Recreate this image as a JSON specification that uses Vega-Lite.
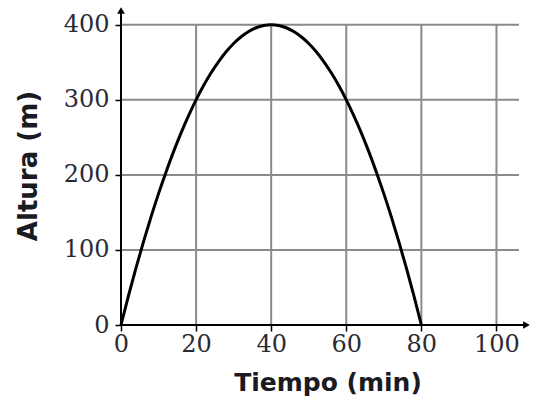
{
  "$schema": "https://vega.github.io/schema/vega-lite/v6.json",
  "autosize": {"type": "none"},
  "padding": {"left": 121, "top": 6, "right": 0, "bottom": 77},
  "width": 413,
  "height": 319,
  "background": "white",
  "config": {"view": {"stroke": null}},
  "datasets": {
    "curve": [
      {"t": 0, "h": 0}, {"t": 2, "h": 39}, {"t": 4, "h": 76}, {"t": 6, "h": 111}, {"t": 8, "h": 144},
      {"t": 10, "h": 175}, {"t": 12, "h": 204}, {"t": 14, "h": 231}, {"t": 16, "h": 256}, {"t": 18, "h": 279},
      {"t": 20, "h": 300}, {"t": 22, "h": 319}, {"t": 24, "h": 336}, {"t": 26, "h": 351}, {"t": 28, "h": 364},
      {"t": 30, "h": 375}, {"t": 32, "h": 384}, {"t": 34, "h": 391}, {"t": 36, "h": 396}, {"t": 38, "h": 399},
      {"t": 40, "h": 400}, {"t": 42, "h": 399}, {"t": 44, "h": 396}, {"t": 46, "h": 391}, {"t": 48, "h": 384},
      {"t": 50, "h": 375}, {"t": 52, "h": 364}, {"t": 54, "h": 351}, {"t": 56, "h": 336}, {"t": 58, "h": 319},
      {"t": 60, "h": 300}, {"t": 62, "h": 279}, {"t": 64, "h": 256}, {"t": 66, "h": 231}, {"t": 68, "h": 204},
      {"t": 70, "h": 175}, {"t": 72, "h": 144}, {"t": 74, "h": 111}, {"t": 76, "h": 76}, {"t": 78, "h": 39},
      {"t": 80, "h": 0}
    ],
    "vgrid": [
      {"t": 20, "h0": 0, "h1": 400}, {"t": 40, "h0": 0, "h1": 400}, {"t": 60, "h0": 0, "h1": 400},
      {"t": 80, "h0": 0, "h1": 400}, {"t": 100, "h0": 0, "h1": 400}
    ],
    "hgrid": [
      {"h": 100, "t0": 0, "t1": 106}, {"h": 200, "t0": 0, "t1": 106}, {"h": 300, "t0": 0, "t1": 106},
      {"h": 400, "t0": 0, "t1": 106}
    ],
    "xaxis": [{"t0": 0, "t1": 108, "h": 0}],
    "yaxis": [{"t": 0, "h0": 0, "h1": 419}],
    "xarrow": [{"t": 108, "h": 0}],
    "yarrow": [{"t": 0, "h": 419}]
  },
  "layer": [
    {
      "data": {"name": "vgrid"},
      "mark": {"type": "rule", "color": "#8a8a8a", "strokeWidth": 2},
      "encoding": {
        "x": {"field": "t", "type": "quantitative", "scale": {"domain": [0, 110], "nice": false},
          "axis": {"values": [0, 20, 40, 60, 80, 100], "grid": false, "domain": false, "tickColor": "black", "tickSize": 6, "tickWidth": 1.5,
            "labelFont": "DejaVu Serif", "labelFontSize": 24, "labelColor": "#2a2a35", "labelPadding": 1, "labelFlush": false,
            "title": "Tiempo (min)", "titleFont": "DejaVu Sans", "titleFontSize": 25, "titleFontWeight": "bold", "titleColor": "#1a1a22", "titlePadding": 14}},
        "y": {"field": "h0", "type": "quantitative", "scale": {"domain": [0, 425], "nice": false},
          "axis": {"values": [0, 100, 200, 300, 400], "grid": false, "domain": false, "tickColor": "black", "tickSize": 6, "tickWidth": 1.5,
            "labelFont": "DejaVu Serif", "labelFontSize": 24, "labelColor": "#2a2a35", "labelPadding": 6, "labelFlush": false,
            "title": "Altura (m)", "titleFont": "DejaVu Sans", "titleFontSize": 26, "titleFontWeight": "bold", "titleColor": "#1a1a22", "titlePadding": 22}},
        "y2": {"field": "h1"}
      }
    },
    {
      "data": {"name": "hgrid"},
      "mark": {"type": "rule", "color": "#8a8a8a", "strokeWidth": 2},
      "encoding": {
        "y": {"field": "h", "type": "quantitative"},
        "x": {"field": "t0", "type": "quantitative"},
        "x2": {"field": "t1"}
      }
    },
    {
      "data": {"name": "xaxis"},
      "mark": {"type": "rule", "color": "black", "strokeWidth": 2},
      "encoding": {
        "y": {"field": "h", "type": "quantitative"},
        "x": {"field": "t0", "type": "quantitative"},
        "x2": {"field": "t1"}
      }
    },
    {
      "data": {"name": "yaxis"},
      "mark": {"type": "rule", "color": "black", "strokeWidth": 2},
      "encoding": {
        "x": {"field": "t", "type": "quantitative"},
        "y": {"field": "h0", "type": "quantitative"},
        "y2": {"field": "h1"}
      }
    },
    {
      "data": {"name": "xarrow"},
      "mark": {"type": "point", "shape": "triangle-right", "filled": true, "color": "black", "size": 60, "opacity": 1},
      "encoding": {
        "x": {"field": "t", "type": "quantitative"},
        "y": {"field": "h", "type": "quantitative"}
      }
    },
    {
      "data": {"name": "yarrow"},
      "mark": {"type": "point", "shape": "triangle-up", "filled": true, "color": "black", "size": 60, "opacity": 1},
      "encoding": {
        "x": {"field": "t", "type": "quantitative"},
        "y": {"field": "h", "type": "quantitative"}
      }
    },
    {
      "data": {"name": "curve"},
      "mark": {"type": "line", "color": "black", "strokeWidth": 3, "interpolate": "monotone"},
      "encoding": {
        "x": {"field": "t", "type": "quantitative"},
        "y": {"field": "h", "type": "quantitative"}
      }
    }
  ]
}
